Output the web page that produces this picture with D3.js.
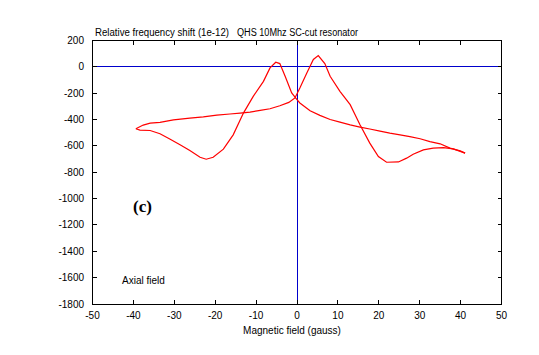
<!DOCTYPE html>
<html><head><meta charset="utf-8">
<script src="https://cdn.jsdelivr.net/npm/d3@7"></script>
<style>body{margin:0;background:#fff}svg{display:block}text{font-family:"Liberation Sans",Arial,sans-serif}</style>
</head><body><svg id="c" width="539" height="355"></svg>
<script>
const xTicks = [-50,-40,-30,-20,-10,0,10,20,30,40,50];
const yTicks = [200,0,-200,-400,-600,-800,-1000,-1200,-1400,-1600,-1800];
// sweep with field increasing
const upX = [-39.4,-38.4,-35.9,-33.5,-31,-28.6,-26.2,-23.7,-22.2,-20.5,-18,-15.6,-13.1,-10.7,-8.2,-6.6,-5.2,-4.2,-2.9,-1.3,0,0.7,3.2,5.6,8.1,10.5,13,15.4,17.8,20.3,22.7,25.2,27.6,30.1,32.5,35,37.4,39.9,41.1];
const upY = [-470,-480,-483,-508,-549,-592,-635,-686,-701,-686,-625,-516,-351,-224,-110,-8,35,25,-72,-198,-249,-274,-333,-368,-400,-420,-440,-457,-472,-488,-503,-516,-529,-546,-567,-584,-617,-638,-655];
// sweep with field decreasing
const downX = [41.1,38.2,35.8,33.3,30.9,28.4,26.8,24.8,21.9,19.9,17.8,15.4,13,10.5,8.1,6.8,5.2,4,2.4,0.7,-0.5,-2,-4.2,-6.6,-9,-11.5,-13.9,-16.4,-19.6,-22.9,-26.2,-30.2,-33.5,-35.9,-37.6,-39.4];
const downY = [-655,-623,-613,-617,-630,-663,-693,-722,-724,-681,-579,-440,-287,-186,-72,25,86,56,-46,-160,-236,-270,-295,-318,-331,-343,-351,-358,-366,-379,-389,-402,-422,-427,-442,-470];

const svg = d3.select("#c");
const L=92.5,R=501.5,T=40.5,B=304;
const x = d3.scaleLinear().domain([-50,50]).range([L,R]);
const y = d3.scaleLinear().domain([-1800,200]).range([B,T]);

// zero lines
svg.append("line").attr("x1",L).attr("x2",R).attr("y1",y(0)).attr("y2",y(0)).attr("stroke","#0000cc").attr("stroke-width",1).attr("shape-rendering","crispEdges");
svg.append("line").attr("x1",x(0)).attr("x2",x(0)).attr("y1",T).attr("y2",B).attr("stroke","#0000cc").attr("stroke-width",1).attr("shape-rendering","crispEdges");

// frame
svg.append("rect").attr("x",L).attr("y",T).attr("width",R-L).attr("height",B-T).attr("fill","none").attr("stroke","#000").attr("stroke-width",1).attr("shape-rendering","crispEdges");

const tl=4;
const g = svg.append("g").attr("stroke","#000").attr("stroke-width",1).attr("shape-rendering","crispEdges");
xTicks.forEach(v=>{
  g.append("line").attr("x1",x(v)).attr("x2",x(v)).attr("y1",B).attr("y2",B-tl);
  g.append("line").attr("x1",x(v)).attr("x2",x(v)).attr("y1",T).attr("y2",T+tl);
});
yTicks.forEach(v=>{
  g.append("line").attr("x1",L).attr("x2",L+tl).attr("y1",y(v)).attr("y2",y(v));
  g.append("line").attr("x1",R).attr("x2",R-tl).attr("y1",y(v)).attr("y2",y(v));
});

svg.selectAll(".xl").data(xTicks).enter().append("text")
  .attr("x",d=>x(d)).attr("y",319).attr("text-anchor","middle").attr("font-size",10).text(d=>d);
svg.selectAll(".yl").data(yTicks).enter().append("text")
  .attr("x",84).attr("y",d=>y(d)+3.5).attr("text-anchor","end").attr("font-size",10).text(d=>d);

const line = d3.line().x(d=>x(d[0])).y(d=>y(d[1]));
const up = upX.map((v,i)=>[v,upY[i]]);
const down = downX.map((v,i)=>[v,downY[i]]);
[up,down].forEach(s=>svg.append("path").attr("d",line(s)).attr("fill","none").attr("stroke","#ff0000").attr("stroke-width",1.2));

svg.append("text").attr("x",95).attr("y",36).attr("font-size",10).attr("textLength",134).attr("lengthAdjust","spacingAndGlyphs").text("Relative frequency shift (1e-12)");
svg.append("text").attr("x",237).attr("y",36).attr("font-size",10).attr("textLength",121).attr("lengthAdjust","spacingAndGlyphs").text("QHS 10Mhz SC-cut resonator");
svg.append("text").attr("x",292).attr("y",334).attr("text-anchor","middle").attr("font-size",10).text("Magnetic field (gauss)");
svg.append("text").attr("x",122).attr("y",284).attr("font-size",10).text("Axial field");
svg.append("text").attr("x",133).attr("y",212).attr("font-size",17).attr("font-weight","bold").style("font-family","'Liberation Serif','Times New Roman',serif").text("(c)");
</script></body></html>
